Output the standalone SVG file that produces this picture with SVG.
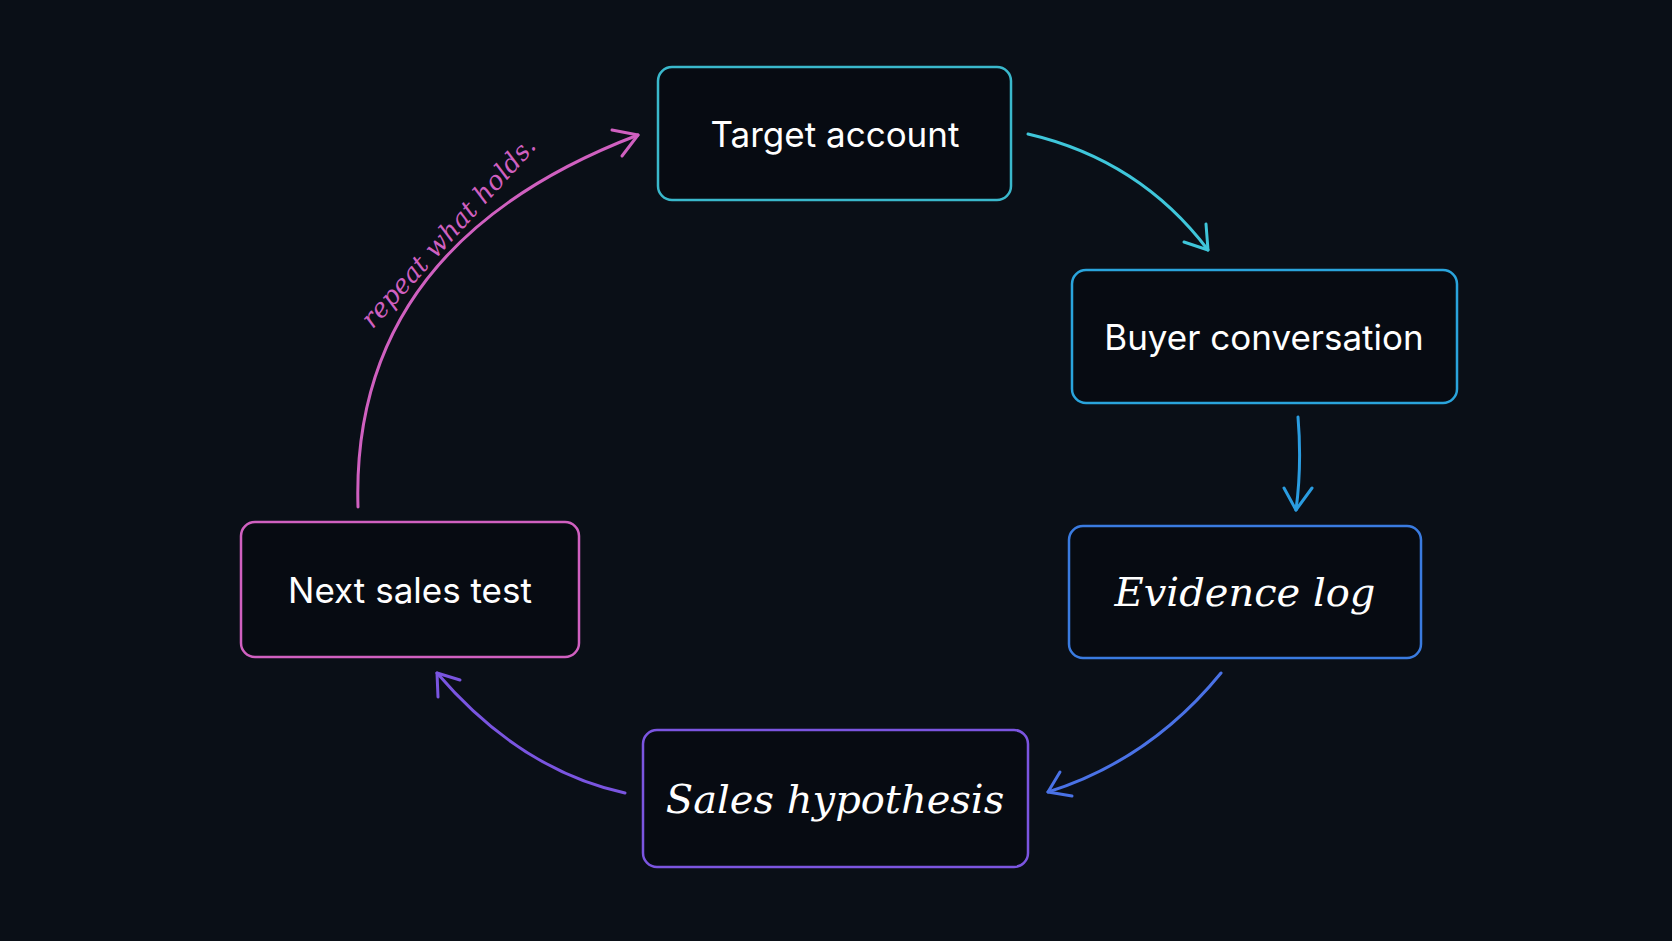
<svg xmlns="http://www.w3.org/2000/svg" width="1672" height="941" viewBox="0 0 1672 941">
<defs>
<style>
.box{fill:#070b12;stroke-width:2.5}
.t{font-family:Inter,"Liberation Sans",sans-serif;font-size:35px;fill:#fff;text-anchor:middle;dominant-baseline:central}
.h{font-family:"DejaVu Serif","Liberation Serif",serif;font-style:italic;font-size:40px;fill:#fff;text-anchor:middle;dominant-baseline:central}
.c{fill:none;stroke-width:3;stroke-linecap:round;stroke-linejoin:round}
</style>
</defs>
<rect width="1672" height="941" fill="#0a0f17"/>
<g id="connectors">
<path class="c" stroke="#3fc6da" d="M1028 134 Q1140 160 1208 250"/>
<path class="c" stroke="#3fc6da" d="M1184 242 L1208 250 L1206 224"/>
<path class="c" stroke="#2a9ce0" d="M1298 417 Q1302 465 1296 510"/>
<path class="c" stroke="#2a9ce0" d="M1284 488 L1296 510 L1312 488"/>
<path class="c" stroke="#4a72e6" d="M1221 673 Q1150 760 1048 792"/>
<path class="c" stroke="#4a72e6" d="M1060 772 L1048 792 L1072 796"/>
<path class="c" stroke="#7a55e0" d="M625 793 Q520 770 437 673"/>
<path class="c" stroke="#7a55e0" d="M438 697 L437 673 L460 680"/>
<path class="c" stroke="#d060c0" d="M358 507 Q350 245 638 135"/>
<path class="c" stroke="#d060c0" d="M612 130 L638 135 L622 156"/>
<text transform="translate(455 238) rotate(-48)" font-family="DejaVu Serif,serif" font-style="italic" font-size="26" fill="#d060c0" text-anchor="middle">repeat what holds.</text>
</g>
<g id="target"><rect class="box" stroke="#3ab8cc" x="658" y="67" width="353" height="133" rx="14"/><text class="t" x="835" y="134">Target account</text></g>
<g id="buyer"><rect class="box" stroke="#2aa4dc" x="1072" y="270" width="385" height="133" rx="14"/><text class="t" x="1264" y="337">Buyer conversation</text></g>
<g id="evidence"><rect class="box" stroke="#3a7be0" x="1069" y="526" width="352" height="132" rx="14"/><text class="h" x="1245" y="592">Evidence log</text></g>
<g id="hypothesis"><rect class="box" stroke="#7b55e0" x="643" y="730" width="385" height="137" rx="14"/><text class="h" x="835" y="799">Sales hypothesis</text></g>
<g id="next"><rect class="box" stroke="#d060c0" x="241" y="522" width="338" height="135" rx="14"/><text class="t" x="410" y="590">Next sales test</text></g>
</svg>
